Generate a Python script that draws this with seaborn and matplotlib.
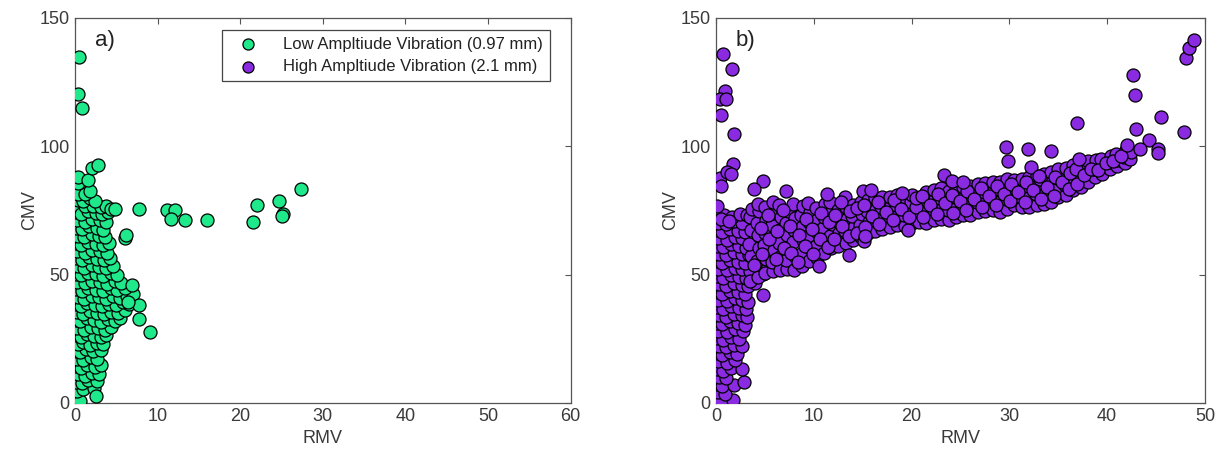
import matplotlib
matplotlib.use("Agg")
import matplotlib.pyplot as plt
import seaborn as sns
import pandas as pd

# ---------------- data ----------------
# Panel a) low amplitude vibration: dense cluster near RMV 0-7
low_core = [
    (0.1, 1.5), (0.6, 0.8), (0.2, 4.8), (1.0, 5.5), (2.3, 5.9), (2.5, 2.8),
    (0.1, 8.2), (0.8, 7.6), (1.6, 8.9), (2.6, 8.4), (0.3, 11.3), (1.2, 10.6),
    (2.0, 11.8), (2.9, 11.1), (0.1, 14.2), (0.7, 13.6), (1.5, 14.8), (2.4, 14.1),
    (3.1, 14.6), (0.2, 17.3), (1.0, 16.6), (1.9, 17.8), (2.7, 17.1), (0.1, 20.4),
    (0.6, 19.7), (1.3, 20.9), (2.2, 20.2), (3.2, 20.7), (0.3, 23.1), (1.0, 23.8),
    (1.8, 22.6), (2.6, 23.5), (3.4, 22.9), (0.1, 26.3), (0.7, 25.7), (1.5, 26.8),
    (2.3, 26.1), (3.1, 25.6), (3.8, 26.6), (0.2, 29.2), (1.1, 28.6), (1.9, 29.7),
    (2.8, 29.1), (3.6, 28.5), (4.3, 29.6), (0.1, 32.4), (0.6, 31.8), (1.4, 32.9),
    (2.3, 32.2), (3.2, 31.6), (4.0, 32.7), (4.8, 31.9), (5.5, 33.1), (0.2, 35.3),
    (1.0, 34.7), (1.8, 35.8), (2.7, 35.1), (3.5, 34.6), (4.4, 35.6), (5.2, 34.9),
    (6.0, 36.2), (0.1, 38.4), (0.7, 37.8), (1.5, 38.9), (2.4, 38.2), (3.3, 37.6),
    (4.1, 38.7), (5.0, 38.1), (5.8, 39.2), (6.5, 38.6), (0.3, 41.2), (1.1, 40.6),
    (2.0, 41.7), (2.9, 41.1), (3.7, 40.5), (4.6, 41.6), (5.5, 40.9), (6.3, 41.8),
    (7.0, 42.4), (0.1, 44.3), (0.8, 43.7), (1.6, 44.8), (2.5, 44.1), (3.4, 43.5),
    (4.3, 44.6), (5.1, 43.9), (6.0, 44.9), (0.2, 47.2), (1.2, 46.6), (2.1, 47.7),
    (3.0, 47.1), (3.9, 46.5), (4.8, 47.6), (5.6, 46.9), (0.1, 50.3), (0.7, 49.7),
    (1.6, 50.8), (2.5, 50.1), (3.4, 49.5), (4.3, 50.6), (5.1, 49.8), (0.3, 53.2),
    (1.1, 52.6), (2.0, 53.7), (2.9, 53.1), (3.8, 52.5), (4.6, 53.4), (0.1, 56.3),
    (0.8, 55.7), (1.7, 56.8), (2.6, 56.1), (3.5, 55.5), (4.2, 56.6), (0.2, 59.2),
    (1.2, 58.6), (2.1, 59.7), (3.0, 59.1), (3.9, 58.5), (0.1, 62.3), (0.7, 61.7),
    (1.6, 62.8), (2.5, 62.1), (3.4, 61.5), (4.1, 62.4), (0.3, 65.2), (1.1, 64.6),
    (2.0, 65.7), (2.9, 65.1), (3.6, 64.5), (0.1, 68.3), (0.8, 67.7), (1.7, 68.8),
    (2.6, 68.1), (3.4, 67.5), (0.2, 71.2), (1.2, 70.6), (2.1, 71.7), (3.0, 71.1),
    (3.8, 70.5), (0.1, 74.3), (0.7, 73.7), (1.6, 74.8), (2.5, 74.1), (3.3, 73.5),
    (4.0, 74.4), (1.2, 76.6), (2.2, 76.9), (3.1, 76.2), (3.7, 76.8), (4.4, 75.6),
    (4.9, 75.4), (0.3, 79.2), (1.0, 78.6), (1.8, 79.7), (2.4, 78.8), (0.4, 81.6),
    (1.2, 81.6), (1.8, 82.4), (0.4, 85.6), (0.4, 88.0), (1.6, 86.8), (2.0, 91.4),
    (2.8, 92.6),
]
low_outliers = [
    (0.5, 134.6), (0.4, 120.2), (0.8, 115.0), (7.8, 75.5), (11.1, 75.3),
    (12.1, 75.3), (11.6, 71.6), (13.3, 71.2), (16.0, 71.4), (21.5, 70.5),
    (22.0, 77.3), (24.7, 78.8), (25.2, 73.8), (25.1, 72.8), (27.4, 83.2),
    (6.1, 64.2), (6.2, 65.4), (9.1, 27.5), (7.8, 38.2), (7.8, 32.6),
    (6.9, 46.1), (6.4, 39.5),
]

# Panel b) high amplitude vibration
high_vertical = [
    (0.1, 1.2), (0.5, 0.8), (1.7, 1.0), (0.2, 4.1), (0.9, 3.6), (0.1, 7.3),
    (0.6, 6.6), (1.8, 6.9), (2.9, 8.2), (0.3, 10.2), (1.0, 9.6), (0.1, 13.1),
    (0.7, 12.6), (1.5, 13.7), (2.7, 13.3), (0.2, 16.2), (1.1, 15.6), (1.9, 16.8),
    (0.1, 19.3), (0.6, 18.7), (1.4, 19.8), (2.1, 19.1), (0.3, 22.2), (1.0, 21.6),
    (1.8, 22.7), (2.6, 22.1), (0.1, 25.3), (0.7, 24.6), (1.5, 25.8), (2.3, 25.1),
    (0.2, 28.2), (1.1, 27.6), (1.9, 28.7), (2.8, 28.1), (0.1, 31.3), (0.6, 30.6),
    (1.4, 31.8), (2.2, 31.1), (3.0, 30.5), (0.3, 34.2), (1.0, 33.6), (1.8, 34.7),
    (2.6, 34.1), (3.2, 33.5), (0.1, 37.3), (0.7, 36.6), (1.5, 37.8), (2.3, 37.1),
    (3.1, 36.5), (0.2, 40.2), (1.1, 39.6), (1.9, 40.7), (2.7, 40.1), (3.3, 39.5),
    (0.1, 43.3), (0.6, 42.6), (1.4, 43.8), (2.2, 43.1), (3.0, 42.5), (4.8, 42.1),
    (0.3, 46.2), (1.0, 45.6), (1.8, 46.7), (2.6, 46.1), (3.3, 45.5), (4.0, 46.6),
    (0.1, 49.3), (0.7, 48.6), (1.5, 49.8), (2.3, 49.1), (3.1, 48.5), (3.9, 49.6),
    (4.8, 50.4), (0.2, 52.2), (1.1, 51.6), (1.9, 52.7), (2.7, 52.1), (3.5, 51.5),
    (4.4, 52.6), (5.3, 52.0), (0.1, 55.3), (0.6, 54.6), (1.4, 55.8), (2.2, 55.1),
    (3.0, 54.5), (3.9, 55.6), (4.7, 54.9), (5.6, 55.7), (0.3, 58.2), (1.0, 57.6),
    (1.8, 58.7), (2.6, 58.1), (3.4, 57.5), (0.1, 61.3), (0.7, 60.6), (1.5, 61.8),
    (2.3, 61.1), (3.1, 60.5), (0.2, 64.2), (1.1, 63.6), (1.9, 64.7), (2.7, 64.1),
    (0.1, 67.3), (0.6, 66.6), (1.4, 67.8), (2.2, 67.1), (3.0, 66.5), (0.2, 70.2),
    (1.0, 69.6), (1.8, 70.7), (2.6, 70.1), (0.8, 73.2), (1.6, 72.6), (2.4, 73.7),
    (3.2, 73.1),
]
high_band = [
    (3.5, 47.5), (3.6, 57.2), (3.4, 62.1), (3.6, 67.4), (3.5, 72.3), (3.7, 75.6),
    (4.3, 49.2), (4.2, 55.4), (4.4, 60.3), (4.3, 65.6), (4.2, 70.1), (4.4, 74.6),
    (4.3, 77.4), (5.0, 50.6), (5.1, 56.2), (4.9, 61.4), (5.0, 66.3), (5.1, 71.2),
    (5.0, 76.5), (5.8, 51.3), (5.7, 54.8), (5.9, 59.6), (5.8, 64.2), (5.7, 69.5),
    (5.9, 74.1), (5.8, 78.2), (6.5, 51.6), (6.6, 57.3), (6.4, 62.4), (6.5, 67.2),
    (6.6, 72.5), (6.4, 77.1), (7.3, 52.1), (7.2, 55.6), (7.4, 60.2), (7.3, 65.4),
    (7.2, 70.3), (7.4, 74.8), (8.0, 51.8), (8.1, 57.4), (7.9, 62.6), (8.0, 67.5),
    (8.1, 72.2), (7.9, 77.4), (8.8, 53.5), (8.7, 58.2), (8.9, 63.3), (8.8, 68.6),
    (8.7, 73.1), (8.9, 76.6), (9.5, 55.4), (9.6, 60.2), (9.4, 65.1), (9.5, 70.4),
    (9.6, 74.3), (9.4, 78.0), (10.3, 56.6), (10.2, 61.3), (10.4, 66.4), (10.3, 71.2),
    (10.2, 75.8), (11.0, 58.3), (11.1, 63.4), (10.9, 68.2), (11.0, 72.6), (11.1, 77.4),
    (11.8, 60.5), (11.7, 65.1), (11.9, 69.6), (11.8, 74.2), (11.7, 78.1), (12.5, 61.2),
    (12.6, 66.3), (12.4, 70.8), (12.5, 75.3), (13.3, 62.4), (13.2, 67.1), (13.4, 71.6),
    (13.3, 76.2), (13.2, 80.1), (14.0, 63.6), (14.1, 68.4), (13.9, 72.8), (14.0, 77.3),
    (14.8, 64.7), (14.7, 69.2), (14.9, 73.6), (14.8, 78.4), (15.0, 82.6), (15.5, 66.2),
    (15.6, 70.5), (15.4, 74.9), (15.5, 79.1), (16.3, 66.8), (16.2, 71.3), (16.4, 75.6),
    (16.3, 79.8), (17.0, 67.6), (17.1, 72.1), (16.9, 76.4), (17.0, 80.2), (17.8, 68.4),
    (17.7, 72.8), (17.9, 76.9), (17.8, 80.4), (18.5, 69.3), (18.6, 73.4), (18.4, 77.2),
    (18.5, 81.1), (19.3, 69.1), (19.2, 73.2), (19.4, 77.6), (19.3, 80.3), (20.0, 70.3),
    (20.1, 74.2), (19.9, 78.1), (20.0, 81.2), (20.8, 70.6), (20.7, 74.8), (20.9, 78.4),
    (21.5, 70.2), (21.6, 74.6), (21.4, 78.9), (21.5, 82.0), (22.3, 71.4), (22.2, 75.4),
    (22.4, 79.3), (22.3, 83.1), (23.0, 71.6), (23.1, 75.6), (22.9, 79.8), (23.0, 83.6),
    (23.8, 71.2), (23.7, 75.2), (23.9, 79.1), (23.8, 82.4), (24.5, 72.4), (24.6, 76.3),
    (24.4, 80.2), (24.5, 83.3), (25.3, 73.4), (25.2, 77.1), (25.4, 80.8), (25.3, 84.2),
    (26.0, 73.2), (26.1, 77.4), (25.9, 81.3), (26.0, 84.6), (26.8, 74.4), (26.7, 78.2),
    (26.9, 81.9), (26.8, 85.3), (27.5, 74.6), (27.6, 78.6), (27.4, 82.3), (27.5, 85.8),
    (28.3, 75.3), (28.2, 79.3), (28.4, 82.9), (28.3, 86.2), (29.0, 74.2), (29.1, 78.8),
    (28.9, 83.2), (29.0, 86.1), (29.8, 75.4), (29.7, 79.6), (29.9, 83.6), (29.8, 87.1),
    (30.5, 77.2), (30.6, 80.6), (30.4, 84.1), (30.5, 86.9), (31.3, 76.3), (31.2, 80.3),
    (31.4, 84.2), (31.3, 87.3), (32.0, 76.4), (32.1, 80.8), (31.9, 84.6), (32.0, 88.2),
    (32.8, 77.2), (32.7, 81.4), (32.9, 85.3), (32.8, 88.6), (33.5, 77.4), (33.6, 81.6),
    (33.4, 85.7), (33.5, 89.2), (34.3, 78.3), (34.2, 82.2), (34.4, 86.3), (34.3, 89.8),
    (35.0, 80.3), (35.1, 84.1), (34.9, 87.6), (35.0, 91.2), (35.8, 81.2), (35.7, 84.8),
    (35.9, 88.2), (35.8, 91.4), (36.5, 83.1), (36.6, 86.6), (36.4, 90.1), (36.5, 92.8),
    (37.3, 84.2), (37.2, 87.6), (37.4, 90.8), (37.3, 93.4), (38.0, 86.1), (38.1, 89.4),
    (37.9, 92.2), (38.0, 94.3), (38.8, 88.2), (38.7, 91.1), (38.9, 94.6), (39.5, 89.3),
    (39.6, 92.4), (39.4, 95.1), (40.3, 91.2), (40.2, 93.8), (40.4, 96.2), (41.0, 92.3),
    (41.1, 94.6), (40.9, 97.1), (41.8, 93.4), (41.7, 95.8), (41.9, 98.6), (42.3, 95.2),
    (42.4, 97.9),
]
# staggered points filling the gaps between the band columns
high_band_fill = [
    (3.9, 53.8), (4.7, 58.1), (4.6, 68.2), (5.4, 63.7), (5.3, 73.4), (6.1, 55.9),
    (6.2, 66.8), (6.9, 60.4), (6.8, 75.2), (7.7, 58.6), (7.6, 69.1), (8.4, 54.9),
    (8.5, 65.3), (9.1, 61.2), (9.2, 71.8), (9.9, 58.1), (9.8, 67.9), (10.6, 63.7),
    (10.7, 74.0), (11.4, 60.9), (11.5, 70.5), (12.1, 63.8), (12.2, 73.1), (12.9, 68.9),
    (12.8, 78.3), (13.6, 65.2), (13.7, 74.6), (14.4, 66.3), (14.4, 75.9), (15.2, 68.5),
    (15.1, 77.2), (15.9, 72.8), (16.7, 69.8), (16.6, 78.2), (17.4, 74.5), (18.1, 71.2),
    (18.2, 79.1), (18.9, 75.6), (19.6, 67.5), (19.7, 72.4), (20.4, 76.3), (20.4, 79.9),
    (21.2, 72.5), (21.1, 80.6), (21.9, 77.0), (22.6, 73.6), (22.7, 81.4), (23.4, 77.8),
    (24.2, 74.1), (24.1, 81.2), (24.9, 78.6), (25.6, 75.3), (25.7, 82.7), (26.4, 79.5),
    (27.2, 76.4), (27.1, 83.9), (27.9, 80.8), (28.6, 77.3), (28.7, 84.5), (29.4, 81.4),
    (30.1, 78.6), (30.2, 85.4), (30.9, 82.3), (31.6, 78.4), (31.7, 86.0), (32.4, 83.1),
    (33.2, 79.5), (33.1, 87.1), (33.9, 84.0), (34.6, 80.6), (34.7, 88.2), (35.4, 86.1),
    (36.1, 83.2), (36.2, 89.5), (36.9, 85.4), (36.8, 91.3), (37.6, 88.9), (38.4, 91.2),
    (39.1, 90.6), (39.9, 93.4), (40.6, 94.1), (41.4, 96.2), (0.5, 71.8), (1.3, 70.9),
]
high_outliers = [
    (0.7, 136.0), (1.6, 130.3), (0.9, 121.5), (0.4, 118.5), (1.0, 118.5),
    (0.5, 112.2), (1.8, 104.7), (1.75, 93.0), (0.4, 87.8), (0.5, 84.6),
    (1.1, 89.8), (1.5, 89.1), (0.1, 76.8), (4.8, 86.5), (3.9, 83.3),
    (7.2, 82.6), (11.3, 81.3), (13.6, 57.8), (10.5, 53.2), (15.1, 63.2),
    (15.2, 65.0), (23.3, 88.7), (24.1, 86.5), (25.3, 85.9), (29.7, 99.7),
    (29.9, 94.3), (31.9, 98.8), (34.3, 98.2), (36.9, 108.9), (42.6, 127.7),
    (42.8, 119.9), (43.0, 106.6), (45.5, 111.4), (47.9, 105.7), (48.1, 134.5),
    (48.4, 138.3), (48.9, 141.6), (44.3, 102.3), (45.2, 99.1), (45.2, 97.5),
    (42.0, 100.5), (43.4, 98.8), (32.2, 92.1), (33.0, 88.4), (37.1, 95.2),
    (15.8, 83.0), (19.0, 81.8),
]

low_label = "Low Ampltiude Vibration (0.97 mm)"
high_label = "High Ampltiude Vibration (2.1 mm)"
x_ticks_a = [0, 10, 20, 30, 40, 50, 60]
x_ticks_b = [0, 10, 20, 30, 40, 50]
y_ticks = [0, 50, 100, 150]

GREEN = "#1FE98A"
PURPLE = "#8A2BE2"

low_df = pd.DataFrame(low_core + low_outliers, columns=["RMV", "CMV"])
high_df = pd.DataFrame(high_vertical + high_band + high_band_fill + high_outliers,
                       columns=["RMV", "CMV"])

# ---------------- figure ----------------
sns.set_style("white")
plt.rcParams["font.family"] = ["Liberation Sans", "DejaVu Sans"]

fig = plt.figure(figsize=(12.22, 4.61), dpi=100)
ax1 = fig.add_axes([0.0614, 0.126, 0.4055, 0.835])
ax2 = fig.add_axes([0.586, 0.126, 0.400, 0.835])

MS = 88
mk = dict(s=MS, edgecolor="black", linewidth=0.9, alpha=1.0, zorder=3)
sns.scatterplot(data=low_df, x="RMV", y="CMV", color=GREEN, ax=ax1, label=low_label, **mk)
sns.scatterplot(data=high_df, x="RMV", y="CMV", color=PURPLE, ax=ax2, **mk)

# legend entry for the purple series on panel a)
ax1.scatter([], [], s=MS, color=PURPLE, edgecolor="black", linewidth=0.9, label=high_label)

for ax, xt, xmax, tag in [(ax1, x_ticks_a, 60, "a)"), (ax2, x_ticks_b, 50, "b)")]:
    ax.set_xlim(0, xmax)
    ax.set_ylim(0, 150)
    ax.set_xticks(xt)
    ax.set_yticks(y_ticks)
    ax.tick_params(axis="both", which="both", direction="in", length=4, width=0.8,
                   top=True, right=True, labelsize=13, labelcolor="#3a3a3a",
                   color="#555555", pad=4)
    ax.tick_params(axis="x", labeltop=False)
    ax.tick_params(axis="y", labelright=False)
    for sp in ax.spines.values():
        sp.set_visible(True)
        sp.set_color("#555555")
        sp.set_linewidth(0.9)
    ax.set_xlabel("RMV", fontsize=13, color="#3a3a3a", labelpad=3)
    ax.set_ylabel("CMV", fontsize=13, color="#3a3a3a", labelpad=1)
    ax.text(0.04, 0.97, tag, transform=ax.transAxes, fontsize=16,
            ha="left", va="top", color="#222222")

leg = ax1.legend(loc="upper right", bbox_to_anchor=(0.958, 0.969), borderaxespad=0,
                 frameon=True, fancybox=False, edgecolor="#444444", fontsize=12,
                 handlelength=2.4, handletextpad=0.9, borderpad=0.4,
                 labelspacing=0.45, markerscale=0.85, framealpha=1)
leg.get_frame().set_linewidth(0.9)
for t in leg.get_texts():
    t.set_color("#222222")

fig.savefig("out.png", dpi=100)
